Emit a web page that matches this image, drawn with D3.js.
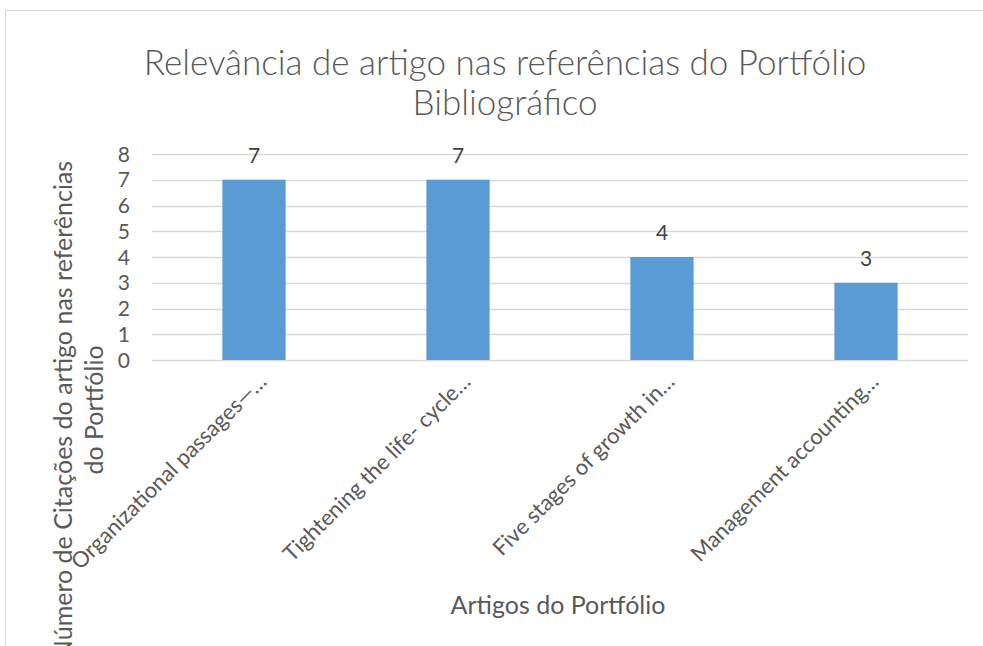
<!DOCTYPE html>
<html>
<head>
<meta charset="utf-8">
<script src="https://cdn.jsdelivr.net/npm/d3@7"></script>
<style>
  body { margin: 0; background: #fff; }
  svg text { font-family: Lato, "Open Sans", sans-serif; }
</style>
</head>
<body>
<div id="chart"></div>
<script>
const W = 983, H = 646;

const articles = [
  'Organizational passages—…',
  'Tightening the life- cycle…',
  'Five stages of growth in…',
  'Management accounting…'
];
const citations = [7, 7, 4, 3];
const yTicks = [0, 1, 2, 3, 4, 5, 6, 7, 8];

const titleLines = ['Relevância de artigo nas referências do Portfólio', 'Bibliográfico'];
const yTitleLines = ['Número de Citações do artigo nas referências', 'do Portfólio'];
const xTitle = 'Artigos do Portfólio';

const plot = { left: 152, right: 968, top: 154, bottom: 360 };

const svg = d3.select('#chart')
  .append('svg')
  .attr('width', W)
  .attr('height', H);

// chart frame, runs past right and bottom edges like the cropped original
svg.append('rect')
  .attr('x', 5.5)
  .attr('y', 10.5)
  .attr('width', W + 20)
  .attr('height', H + 20)
  .attr('fill', '#fff')
  .attr('stroke', '#d9d9d9')
  .attr('stroke-width', 1);

const x = d3.scaleBand()
  .domain(articles)
  .range([plot.left, plot.right]);

const y = d3.scaleLinear()
  .domain([0, 8])
  .range([plot.bottom, plot.top]);

const barW = x.bandwidth() * 0.31;

// gridlines
svg.append('g')
  .selectAll('line.grid')
  .data(yTicks)
  .join('line')
  .attr('class', 'grid')
  .attr('x1', plot.left)
  .attr('x2', plot.right)
  .attr('y1', d => Math.round(y(d)) + 0.5)
  .attr('y2', d => Math.round(y(d)) + 0.5)
  .attr('stroke', '#d9d9d9')
  .attr('stroke-width', 1.3);

// y tick labels
svg.append('g')
  .selectAll('text.ytick')
  .data(yTicks)
  .join('text')
  .attr('class', 'ytick')
  .attr('x', 130)
  .attr('y', d => y(d))
  .attr('dy', '0.36em')
  .attr('text-anchor', 'end')
  .attr('font-size', 21)
  .attr('fill', '#595959')
  .text(d => d);

// bars
svg.append('g')
  .selectAll('rect.bar')
  .data(citations)
  .join('rect')
  .attr('class', 'bar')
  .attr('x', (d, i) => x(articles[i]) + x.bandwidth() / 2 - barW / 2)
  .attr('width', barW)
  .attr('y', d => y(d))
  .attr('height', d => y(0) - y(d))
  .attr('fill', '#5b9bd5');

// value labels
svg.append('g')
  .selectAll('text.val')
  .data(citations)
  .join('text')
  .attr('class', 'val')
  .attr('x', (d, i) => x(articles[i]) + x.bandwidth() / 2)
  .attr('y', d => y(d) - 17)
  .attr('text-anchor', 'middle')
  .attr('font-size', 21)
  .attr('fill', '#404040')
  .text(d => d);

// rotated category labels
svg.append('g')
  .selectAll('text.xcat')
  .data(articles)
  .join('text')
  .attr('class', 'xcat')
  .attr('transform', d => `translate(${x(d) + x.bandwidth() / 2 + 14},${plot.bottom + 23}) rotate(-45)`)
  .attr('text-anchor', 'end')
  .attr('font-size', 22)
  .attr('fill', '#595959')
  .text(d => d);

// chart title
svg.append('g')
  .selectAll('text.title')
  .data(titleLines)
  .join('text')
  .attr('class', 'title')
  .attr('x', 505)
  .attr('y', (d, i) => 75 + i * 40)
  .attr('text-anchor', 'middle')
  .attr('font-size', 35)
  .attr('font-weight', 300)
  .attr('fill', '#595959')
  .text(d => d);

// y axis title, two centred lines
svg.append('g')
  .selectAll('text.ytitle')
  .data(yTitleLines)
  .join('text')
  .attr('class', 'ytitle')
  .attr('transform', (d, i) => `translate(${72 + i * 31},410) rotate(-90)`)
  .attr('text-anchor', 'middle')
  .attr('font-size', 25)
  .attr('fill', '#595959')
  .text(d => d);

// x axis title
svg.append('text')
  .attr('x', 558)
  .attr('y', 614)
  .attr('text-anchor', 'middle')
  .attr('font-size', 25)
  .attr('fill', '#595959')
  .text(xTitle);
</script>
</body>
</html>
